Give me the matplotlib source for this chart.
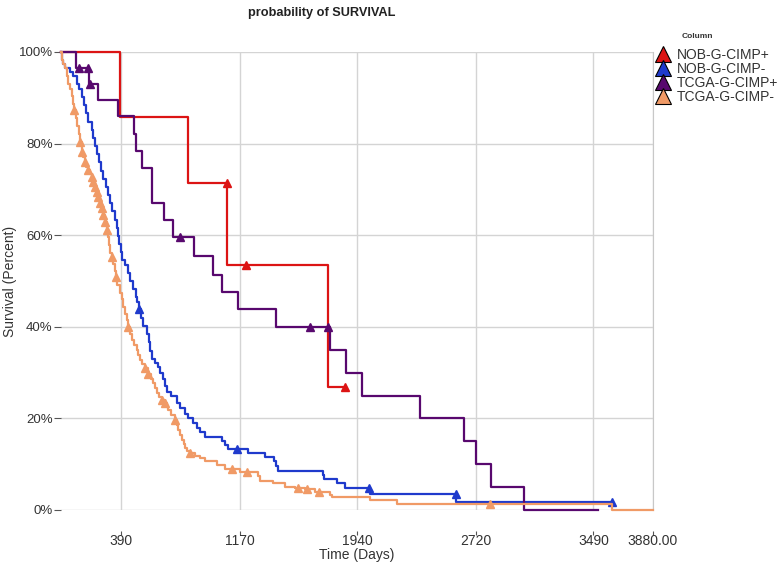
import matplotlib
matplotlib.use("Agg")
import matplotlib.pyplot as plt
from matplotlib.lines import Line2D
import numpy as np

plt.rcParams['font.family'] = ['Liberation Sans', 'DejaVu Sans']

# Kaplan-Meier curves: step times (days) and survival (%)
nob_pos_t = [0, 387, 832, 1090, 1750, 1861]
nob_pos_s = [100, 85.7, 71.4, 53.6, 26.8, 26.8]
nob_pos_cens = [1088, 1212, 1861]

nob_neg_t = [0, 7, 16, 26, 59, 79, 103, 118, 136, 151, 164, 179, 201, 213, 223,
             234, 249, 262, 277, 292, 305, 321, 334, 354, 367, 375, 383, 393,
             400, 419, 441, 452, 472, 491, 498, 509, 524, 537, 562, 577, 586,
             596, 616, 636, 649, 668, 681, 695, 721, 758, 780, 813, 832, 865,
             891, 911, 944, 1055, 1075, 1094, 1225, 1337, 1396, 1409, 1422,
             1717, 1723, 1809, 1861, 2025, 2590, 3609]
nob_neg_s = [100, 98.2, 97.3, 96.5, 95.6, 94.7, 93.0, 92.0, 90.2, 88.4, 86.6,
             84.8, 83.0, 81.3, 79.5, 77.7, 75.9, 74.1, 72.3, 70.5, 68.8, 67.0,
             65.2, 63.4, 61.6, 59.8, 58.0, 56.3, 54.5, 53.6, 51.8, 50.0, 48.2,
             46.4, 45.5, 43.9, 42.0, 40.2, 38.4, 36.6, 34.8, 33.0, 32.1, 31.2,
             30.0, 28.5, 27.0, 25.8, 24.9, 23.4, 22.3, 21.0, 20.0, 19.0, 18.0,
             17.1, 16.0, 15.1, 14.2, 13.3, 12.4, 11.6, 10.6, 9.5, 8.6, 7.7, 6.8,
             5.8, 4.9, 3.6, 1.8, 1.8]
nob_neg_cens = [509, 1155, 2018, 2586, 3609]

tcga_pos_t = [0, 98, 185, 242, 374, 478, 491, 531, 596, 675, 734, 872, 996,
              1055, 1160, 1409, 1763, 1868, 1972, 2353, 2641, 2720, 2818, 3034,
              3519]
tcga_pos_s = [100, 96.6, 93.1, 89.6, 86.0, 82.0, 78.3, 74.6, 67.1, 63.4, 59.7,
              55.5, 51.3, 47.7, 43.9, 40.0, 34.9, 29.9, 25.0, 20.1, 15.1, 10.0,
              5.1, 0, 0]
tcga_pos_cens = [118, 177, 190, 780, 1632, 1750]

tcga_neg_t = [0, 7, 16, 26, 39, 48, 59, 72, 79, 85, 96, 105, 115, 125, 136, 146,
              157, 167, 179, 190, 201, 208, 223, 234, 244, 256, 267, 277, 288,
              299, 308, 315, 321, 332, 341, 351, 358, 370, 387, 398, 408, 419,
              431, 441, 452, 463, 478, 496, 505, 518, 534, 550, 572, 590, 605,
              616, 627, 642, 660, 681, 693, 703, 721, 747, 757, 769, 780, 791,
              803, 813, 829, 845, 878, 911, 944, 1020, 1075, 1173, 1291, 1304,
              1389, 1468, 1533, 1599, 1664, 1763, 1774, 2025, 2200, 3609, 3880]
tcga_neg_s = [100, 98.3, 97.4, 96.5, 94.8, 93.0, 92.0, 90.4, 88.7, 87.3, 85.6,
              83.9, 82.2, 80.4, 78.2, 77.0, 76.0, 75.0, 74.2, 73.3, 72.8, 71.7,
              70.6, 69.5, 68.4, 67.0, 65.9, 64.4, 62.9, 61.1, 59.5, 57.8, 56.2,
              55.3, 53.7, 52.2, 50.9, 49.2, 47.4, 46.0, 44.4, 42.9, 41.4, 40.0,
              38.5, 37.1, 36.0, 34.9, 33.8, 32.8, 31.8, 30.9, 29.8, 28.7, 27.7,
              26.6, 25.5, 24.7, 24.0, 23.3, 22.5, 21.8, 20.8, 19.7, 18.6, 17.5,
              16.4, 15.3, 14.4, 13.5, 12.9, 12.4, 11.8, 11.3, 10.6, 9.8, 9.0,
              8.4, 7.4, 6.3, 5.8, 5.1, 4.9, 4.5, 4.0, 3.3, 2.8, 2.2, 1.3, 0, 0]
tcga_neg_cens = [85, 125, 136, 157, 179, 201, 208, 223, 234, 244, 256, 267, 277,
                 288, 299, 332, 358, 441, 550, 572, 660, 681, 747, 845, 1119,
                 1219, 1551, 1610, 1691, 2811]

labels = ['NOB-G-CIMP+', 'NOB-G-CIMP-', 'TCGA-G-CIMP+', 'TCGA-G-CIMP-']
colors = ['#dc1414', '#1f3acc', '#58086e', '#f09a66']
x_ticks = [390, 1170, 1940, 2720, 3490, 3880]
x_ticklabels = ['390', '1170', '1940', '2720', '3490', '3880.00']
y_ticks = [0, 20, 40, 60, 80, 100]


def step_value(times, surv, t):
    idx = np.searchsorted(times, t, side='right') - 1
    return np.asarray(surv)[idx]


series = [(nob_pos_t, nob_pos_s, nob_pos_cens),
          (nob_neg_t, nob_neg_s, nob_neg_cens),
          (tcga_pos_t, tcga_pos_s, tcga_pos_cens),
          (tcga_neg_t, tcga_neg_s, tcga_neg_cens)]

fig = plt.figure(figsize=(7.78, 5.68), dpi=100)
ax = fig.add_axes([61 / 778, 58 / 568, 592 / 778, 458 / 568])

# draw back to front so the red curve sits on top
for k in [3, 1, 2, 0]:
    t, s, cens = series[k]
    ax.step(t, s, where='post', color=colors[k], lw=1.6, clip_on=False,
            zorder=3 + k)
    ax.plot(cens, step_value(t, s, cens), '^', color=colors[k], ms=6,
            mec=colors[k], clip_on=False, zorder=3 + k)

ax.set_xlim(0, 3880)
ax.set_ylim(0, 100)
ax.set_xticks(x_ticks)
ax.set_xticklabels(x_ticklabels)
ax.set_yticks(y_ticks)
ax.set_yticklabels([f'{v}%' for v in y_ticks])
ax.grid(True, color='#d4d4d4', lw=1)
ax.set_axisbelow(True)

for side in ['top', 'left', 'bottom']:
    ax.spines[side].set_visible(False)
ax.spines['right'].set_color('#c8c8c8')
ax.spines['bottom'].set_position(('outward', 15))

ax.tick_params(axis='x', length=3, width=0.8, color='#555555', pad=-1,
               labelsize=10, labelcolor='#333333')
ax.tick_params(axis='y', length=5, width=0.8, color='#555555', pad=1,
               labelsize=9.5, labelcolor='#333333')

fig.text(357 / 778, 1 - 555 / 568, 'Time (Days)', ha='center', va='center',
         fontsize=10, color='#333333')
fig.text(10 / 778, 1 - 281 / 568, 'Survival (Percent)', rotation=90,
         ha='center', va='center', fontsize=10, color='#333333')
fig.text(322 / 778, 1 - 13 / 568, 'probability of SURVIVAL', ha='center',
         va='center', fontsize=9.2, fontweight='bold', color='#222222')
fig.text(697 / 778, 1 - 37 / 568, 'Column', ha='center', va='center',
         fontsize=6, fontweight='bold', color='#333333')

handles = [Line2D([], [], ls='none', marker='^', ms=12, color=c, mec='black',
                  mew=0.8) for c in colors]
leg = fig.legend(handles, labels, loc='upper left',
                 bbox_to_anchor=(656 / 778, 1 - 48 / 568), frameon=False,
                 fontsize=10, handlelength=1.0, handletextpad=0.5,
                 labelspacing=0.0, borderaxespad=0, borderpad=0)
for txt in leg.get_texts():
    txt.set_color('#333333')

plt.savefig('out.png', dpi=100)
